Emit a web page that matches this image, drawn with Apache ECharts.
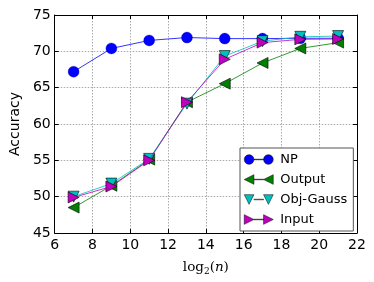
<!DOCTYPE html>
<html><head><meta charset="utf-8">
<script src="https://cdn.jsdelivr.net/npm/echarts@6/dist/echarts.min.js"></script>
<style>html,body{margin:0;padding:0;background:#fff}#c{width:374px;height:282px}</style>
</head><body><div id="c"></div>
<script>
const xs = [7, 9, 11, 13, 15, 17, 19, 21];
const np = [67.2, 70.4, 71.5, 71.9, 71.75, 71.75, 71.8, 71.8];
const output = [48.5, 51.5, 55.1, 63.0, 65.55, 68.4, 70.4, 71.2];
const objGauss = [50.0, 51.8, 55.2, 62.8, 69.35, 71.4, 72.0, 72.1];
const input = [49.9, 51.4, 55.0, 63.0, 68.9, 71.2, 71.65, 71.7];
const names = ['NP', 'Output', 'Obj-Gauss', 'Input'];

const pair = (a, b) => 'path://' + a + ' M10,4.7 L20,4.7 L20,5.3 L10,5.3 Z ' + b;
const icons = [
  pair('M0,5 A5,5 0 1,1 10,5 A5,5 0 1,1 0,5 Z', 'M20,5 A5,5 0 1,1 30,5 A5,5 0 1,1 20,5 Z'),
  pair('M0,5 L10,0 L10,10 Z', 'M20,5 L30,0 L30,10 Z'),
  pair('M0,0 L10,0 L5,10 Z', 'M20,0 L30,0 L25,10 Z'),
  pair('M0,0 L10,5 L0,10 Z', 'M20,0 L30,5 L20,10 Z')
];
const colors = ['#0000ff', '#008000', '#00bfbf', '#bf00bf'];
const symbols = ['circle', 'triangle', 'triangle', 'triangle'];
const rot = [0, 90, 180, -90];
const sizes = [11, 11, 11, 11];
const datas = [np, output, objGauss, input];

const chart = echarts.init(document.getElementById('c'));
const font = 'DejaVu Sans';
const gridLine = {show: true, lineStyle: {color: '#aaa', type: [1.5, 1.5], width: 1}};
chart.setOption({
  animation: false,
  grid: {left: 48, right: 17, top: 15, bottom: 49},
  xAxis: [{
    type: 'value', min: 6, max: 22, interval: 2,
    axisLine: {show: true, onZero: false, lineStyle: {color: '#000', width: 1}},
    axisTick: {inside: true, length: 4, lineStyle: {color: '#000'}},
    axisLabel: {color: '#000', fontFamily: font, fontSize: 14, margin: 5},
    splitLine: gridLine,
    name: '{a|log}{s|2}{a|(}{i|n}{a|)}', nameLocation: 'middle', nameGap: 26,
    nameTextStyle: {rich: {
      a: {fontFamily: 'DejaVu Serif', fontSize: 13.5, color: '#000'},
      s: {fontFamily: 'DejaVu Serif', fontSize: 9, color: '#000', verticalAlign: 'bottom', padding: [8, 0, 0, 0]},
      i: {fontFamily: 'DejaVu Serif', fontSize: 13.5, fontStyle: 'italic', color: '#000'}
    }}
  }, {
    type: 'value', min: 6, max: 22, interval: 2, position: 'top',
    axisLine: {show: true, onZero: false, lineStyle: {color: '#000', width: 1}},
    axisTick: {inside: true, length: 4, lineStyle: {color: '#000'}},
    axisLabel: {show: false}, splitLine: {show: false}
  }],
  yAxis: [{
    type: 'value', min: 45, max: 75, interval: 5,
    axisLine: {show: true, onZero: false, lineStyle: {color: '#000', width: 1}},
    axisTick: {inside: true, length: 4, lineStyle: {color: '#000'}},
    axisLabel: {color: '#000', fontFamily: font, fontSize: 14, margin: 4},
    splitLine: gridLine,
    name: 'Accuracy', nameLocation: 'middle', nameGap: 30,
    nameTextStyle: {fontFamily: font, fontSize: 14, color: '#000'}
  }, {
    type: 'value', min: 45, max: 75, interval: 5, position: 'right',
    axisLine: {show: true, onZero: false, lineStyle: {color: '#000', width: 1}},
    axisTick: {inside: true, length: 4, lineStyle: {color: '#000'}},
    axisLabel: {show: false}, splitLine: {show: false}
  }],
  legend: {
    left: 240, top: 148, orient: 'vertical',
    width: 111, padding: [5, 6, 5, 4], itemGap: 7,
    backgroundColor: '#fff', borderColor: '#555', borderWidth: 1,
    itemWidth: 29, itemHeight: 10,
    itemStyle: {borderWidth: 0.5, borderColor: '#000'},
    textStyle: {fontFamily: font, fontSize: 13, color: '#000', padding: [0, 0, 0, 2]},
    data: names.map((n, i) => ({name: n, icon: icons[i]}))
  },
  series: names.map((n, i) => ({
    name: n, type: 'line',
    data: xs.map((x, j) => [x, datas[i][j]]),
    symbol: symbols[i], symbolRotate: rot[i], symbolSize: sizes[i],
    showAllSymbol: true,
    lineStyle: {color: colors[i], width: 1, opacity: 0.8},
    itemStyle: {color: colors[i], borderColor: i === 0 ? '#00008b' : '#000', borderWidth: i === 0 ? 0.3 : 0.6, opacity: 1},
    emphasis: {disabled: true},
    z: 2 + i
  }))
});
</script></body></html>
